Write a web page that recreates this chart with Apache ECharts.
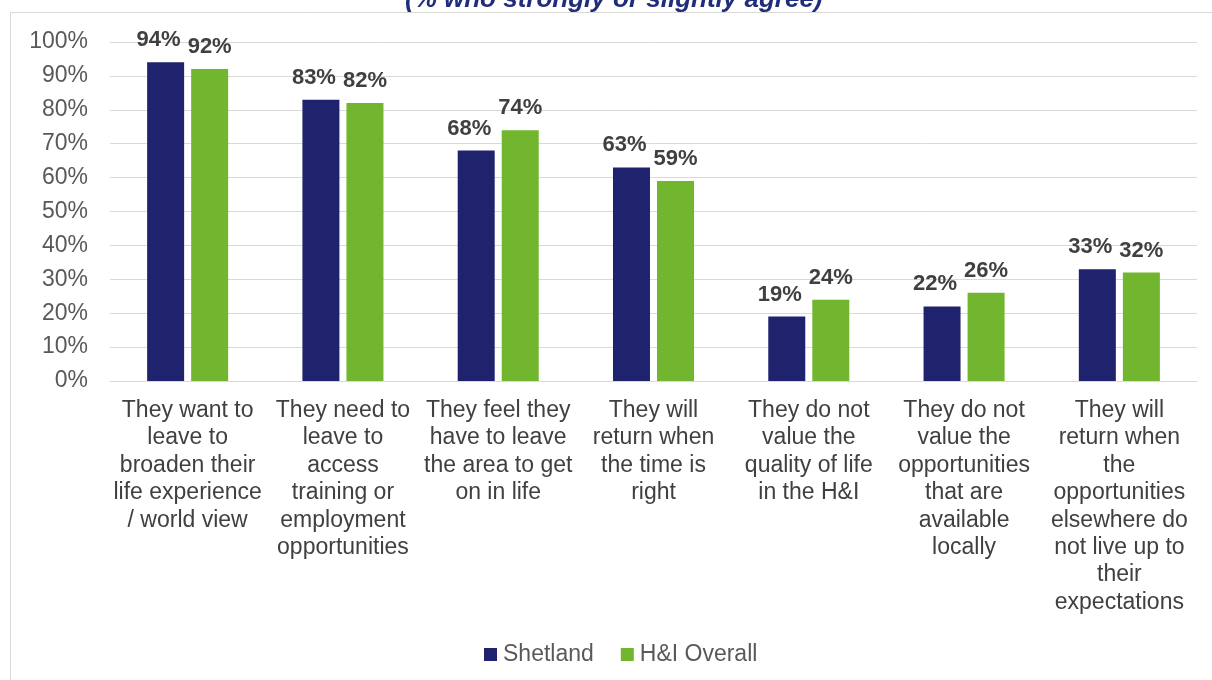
<!DOCTYPE html>
<html><head><meta charset="utf-8">
<script src="https://cdn.jsdelivr.net/npm/echarts@6/dist/echarts.min.js"></script>
<style>html,body{margin:0;padding:0;background:#fff}#c{width:1212px;height:680px}</style>
</head><body><div id="c"></div>
<script>
const categories = [
  "They want to\nleave to\nbroaden their\nlife experience\n/ world view",
  "They need to\nleave to\naccess\ntraining or\nemployment\nopportunities",
  "They feel they\nhave to leave\nthe area to get\non in life",
  "They will\nreturn when\nthe time is\nright",
  "They do not\nvalue the\nquality of life\nin the H&I",
  "They do not\nvalue the\nopportunities\nthat are\navailable\nlocally",
  "They will\nreturn when\nthe\nopportunities\nelsewhere do\nnot live up to\ntheir\nexpectations"
];
const shetland = [94, 83, 68, 63, 19, 22, 33];
const hiOverall = [92, 82, 74, 59, 24, 26, 32];
const yTicks = [0, 10, 20, 30, 40, 50, 60, 70, 80, 90, 100];
const title = "(% who strongly or slightly agree)";

const chart = echarts.init(document.getElementById('c'), null, {renderer: 'canvas'});
const FONT = '"Liberation Sans", Arial, sans-serif';
const lbl = (off) => ({
  show: true, position: 'top', distance: 11, offset: off,
  formatter: p => p.value + '%',
  fontFamily: FONT, fontSize: 22, fontWeight: 'bold', color: '#404040'
});
chart.setOption({
  animation: false,
  textStyle: {fontFamily: FONT},
  title: {
    text: title, left: 400, top: -18,
    textStyle: {fontFamily: FONT, fontSize: 26, fontWeight: 'bold', fontStyle: 'italic', color: '#1f2d7a'}
  },
  graphic: [{
    type: 'rect', z: -1,
    shape: {x: 10.5, y: 12.5, width: 1300, height: 700},
    style: {fill: 'none', stroke: '#d9d9d9', lineWidth: 1}
  }],
  legend: {
    bottom: 9, left: 479, itemWidth: 13, itemHeight: 13, itemGap: 27,
    icon: 'rect',
    textStyle: {fontFamily: FONT, fontSize: 23, color: '#595959', padding: [0, 0, 0, 1]},
    data: ['Shetland', 'H&I Overall']
  },
  grid: {left: 110, right: 15, top: 42, bottom: 299, containLabel: false},
  xAxis: {
    type: 'category', data: categories,
    axisTick: {show: false},
    axisLine: {lineStyle: {color: '#d9d9d9', width: 1}},
    axisLabel: {
      interval: 0, margin: 16, fontFamily: FONT, fontSize: 23, color: '#404040',
      lineHeight: 27.4, verticalAlign: 'top'
    }
  },
  yAxis: {
    type: 'value', min: 0, max: 100, interval: 10,
    axisLabel: {formatter: v => v + '%', fontFamily: FONT, fontSize: 23, color: '#595959', margin: 22},
    axisLine: {show: false}, axisTick: {show: false},
    splitLine: {lineStyle: {color: '#d9d9d9', width: 1}}
  },
  series: [
    {name: 'Shetland', type: 'bar', data: shetland, barWidth: 37, barGap: '19%',
     itemStyle: {color: '#1f236d'}, label: lbl([-7, 0])},
    {name: 'H&I Overall', type: 'bar', data: hiOverall, barWidth: 37,
     itemStyle: {color: '#72b52e'}, label: lbl([0, 0])}
  ]
});
</script></body></html>
